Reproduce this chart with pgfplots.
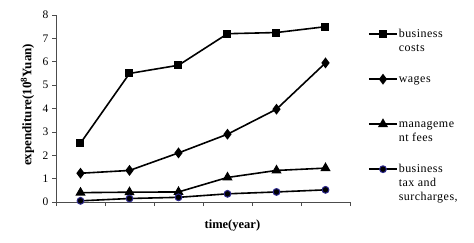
\documentclass[border=0pt]{standalone}
\usepackage{pgfplots}
\pgfplotsset{compat=1.18}
\usepackage{fontspec}
\setmainfont{Liberation Serif}
\newfontfamily\legfont[LetterSpace=4]{Liberation Serif}
\definecolor{navyedge}{RGB}{45,40,140}
\begin{document}
\begin{tikzpicture}[x=1pt,y=1pt]
\useasboundingbox (-56,-40) rectangle (418,202);
\begin{axis}[
  scale only axis,
  width=294pt, height=187pt,
  at={(0,0)}, anchor=south west,
  xmin=0.5, xmax=6.5, ymin=0, ymax=8,
  xtick={0.5,1.5,...,6.5}, xticklabels={},
  ytick={0,1,...,8},
  axis x line*=bottom, axis y line*=left,
  tick align=outside,
  major tick length=4pt,
  axis line style={line width=0.6pt, black!70},
  tick style={line width=0.6pt, black!70},
  /pgf/number format/assume math mode=true,
  tick label style={font=\fontsize{11.5}{13}\selectfont},
  ylabel={\textbf{expenditure(10\textsuperscript{8}Yuan)}},
  ylabel style={font=\fontsize{13}{15}\selectfont, at={(axis description cs:-0.097,0.52)}, anchor=center},
  xlabel={\textbf{time(year)}},
  xlabel style={font=\fontsize{12.5}{14}\selectfont, at={(axis description cs:0.6,-0.128)}, anchor=center},
  legend style={draw=none, fill=none, at={(axis description cs:1,1)}, anchor=north west, xshift=15pt, yshift=-10pt,
    font=\fontsize{12}{14}\legfont\selectfont, row sep=0pt,
    nodes={text depth=34pt, text height=9pt, inner sep=1pt, anchor=base west}},
  legend cell align=left,
  legend image code/.code={\draw[mark repeat=2,mark phase=2,#1] plot coordinates {(0pt,3pt)(14pt,3pt)(28pt,3pt)};},
  every axis plot/.append style={line width=1.6pt, black},
]
\addplot[mark=square*, mark size=3.2pt, mark options={solid}] coordinates {(1,2.52)(2,5.5)(3,5.85)(4,7.2)(5,7.25)(6,7.5)};
\addlegendentry{\parbox[t]{70pt}{business\\costs}}
\addplot[mark=diamond*, mark size=4.2pt] coordinates {(1,1.23)(2,1.35)(3,2.1)(4,2.9)(5,3.97)(6,5.95)};
\addlegendentry{wages}
\addplot[mark=triangle*, mark size=4.3pt] coordinates {(1,0.4)(2,0.42)(3,0.43)(4,1.05)(5,1.35)(6,1.45)};
\addlegendentry{\parbox[t]{70pt}{manageme\\nt fees}}
\addplot[mark=*, mark size=3.4pt, mark options={fill=black, draw=navyedge, line width=1pt}] coordinates {(1,0.05)(2,0.15)(3,0.2)(4,0.35)(5,0.43)(6,0.52)};
\addlegendentry{\parbox[t]{80pt}{business\\tax and\\surcharges,}}
\end{axis}
\end{tikzpicture}
\end{document}
